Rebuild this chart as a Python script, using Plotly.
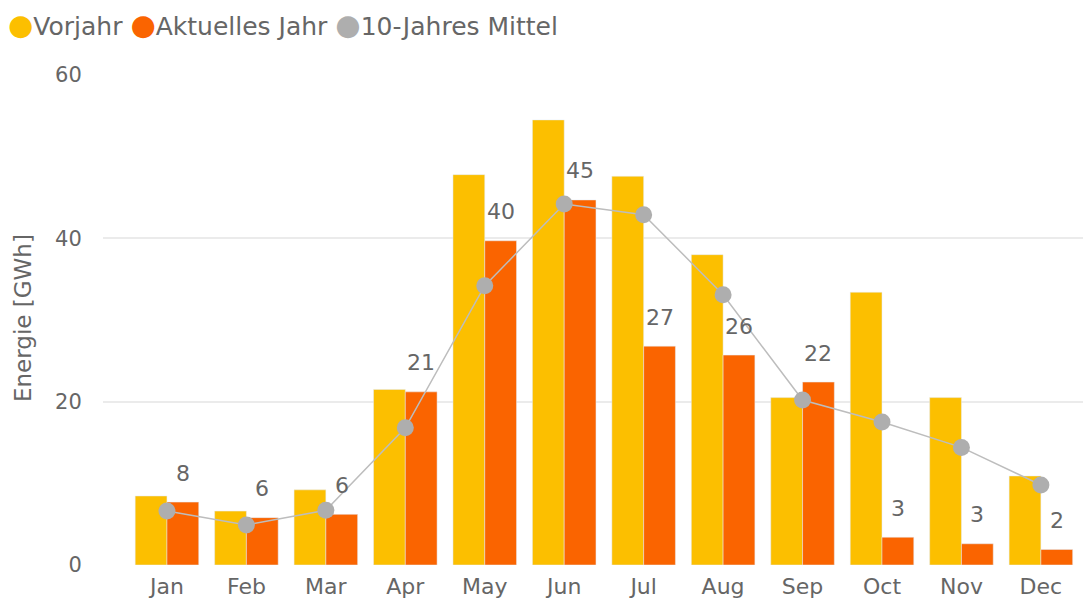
import plotly.graph_objects as go

months = ["Jan", "Feb", "Mar", "Apr", "May", "Jun", "Jul", "Aug", "Sep", "Oct", "Nov", "Dec"]
vorjahr = [8.45, 6.6, 9.2, 21.5, 47.8, 54.5, 47.6, 38.0, 20.5, 33.4, 20.5, 10.9]
aktuell = [7.7, 5.8, 6.2, 21.2, 39.7, 44.7, 26.8, 25.7, 22.4, 3.4, 2.6, 1.9]
mittel = [6.6, 4.9, 6.7, 16.8, 34.2, 44.2, 42.9, 33.1, 20.2, 17.5, 14.4, 9.8]
y_ticks = [0, 20, 40, 60]

C_VOR = "#FCBF00"
C_AKT = "#FA6400"
C_MIT = "#AEAEAE"
TXT = "#666666"
FONT = "DejaVu Sans"

fig = go.Figure()
fig.add_trace(go.Bar(x=months, y=vorjahr, name="Vorjahr", marker_color=C_VOR, showlegend=False))
fig.add_trace(go.Bar(x=months, y=aktuell, name="Aktuelles Jahr", marker_color=C_AKT, showlegend=False))
fig.add_trace(go.Scatter(x=months, y=mittel, name="10-Jahres Mittel", mode="lines+markers",
                         line=dict(color="#BDBDBD", width=1.5),
                         marker=dict(color=C_MIT, size=17), showlegend=False))

annotations = []
for i, v in enumerate(aktuell):
    annotations.append(dict(x=i + 0.2, y=v, xref="x", yref="y", text=str(round(v)),
                            showarrow=False, yshift=29,
                            font=dict(family=FONT, size=22, color=TXT)))

dot = '<span style="font-size:29px;color:{c}">●</span>'
legend_text = (dot.format(c=C_VOR) + 'Vorjahr '
               + dot.format(c=C_AKT) + 'Aktuelles Jahr '
               + dot.format(c=C_MIT) + '10-Jahres Mittel')
annotations.append(dict(x=6 / 980 - 103 / 980, y=1 + (75 - 25) / 490, xref="paper", yref="paper",
                        xanchor="left", yanchor="middle",
                        text=legend_text, showarrow=False,
                        font=dict(family=FONT, size=25, color=TXT)))
annotations.append(dict(x=(23 - 103) / 980, y=(565 - 318) / 490, xref="paper", yref="paper",
                        xanchor="center", yanchor="middle", textangle=-90,
                        text="Energie [GWh]", showarrow=False,
                        font=dict(family=FONT, size=23, color=TXT)))

fig.update_layout(
    width=1084, height=601,
    margin=dict(l=103, r=1, t=75, b=36, autoexpand=False),
    paper_bgcolor="white", plot_bgcolor="white",
    barmode="group", bargap=0.2, bargroupgap=0,
    font=dict(family=FONT, color=TXT),
    annotations=annotations,
    xaxis=dict(range=[-0.805, 11.53], showgrid=False, zeroline=False, showline=False,
               ticks="outside", ticklen=2, tickcolor="rgba(0,0,0,0)", automargin=False,
               tickfont=dict(family=FONT, size=22, color=TXT)),
    yaxis=dict(range=[0, 60], tickvals=y_ticks, showgrid=True, gridcolor="#EBEBEB", gridwidth=1.5,
               zeroline=False, showline=False, automargin=False,
               ticks="outside", ticklen=16, tickcolor="rgba(0,0,0,0)",
               tickfont=dict(family=FONT, size=21, color=TXT)),
)

fig.write_html("out.html", config={"displayModeBar": False},
               post_script="document.body.style.margin='0';")
